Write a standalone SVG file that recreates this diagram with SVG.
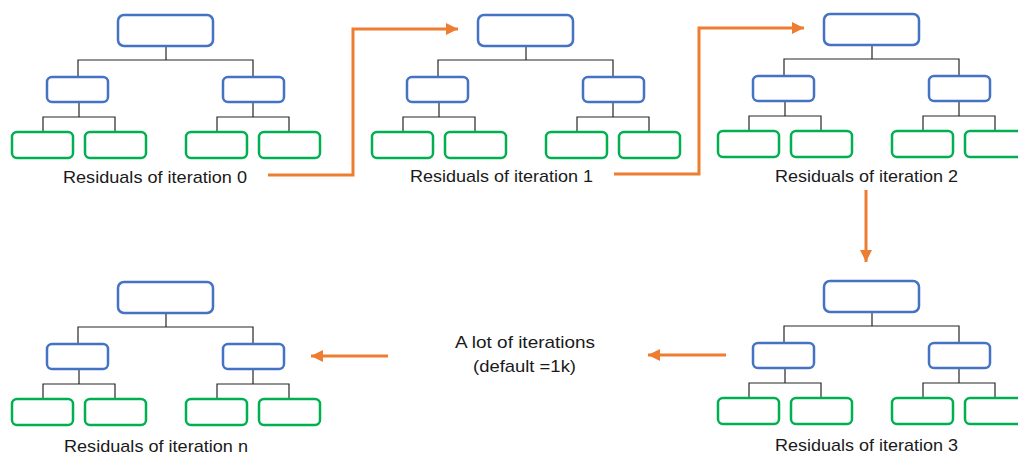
<svg xmlns="http://www.w3.org/2000/svg" width="1018" height="456" viewBox="0 0 1018 456">
<defs>
<style>
.b{fill:#fff;stroke:#4472C4;stroke-width:2.5}
.l{fill:#fff;stroke:#00B050;stroke-width:2.5}
.c{fill:none;stroke:#262626;stroke-width:1.2}
.o{fill:none;stroke:#ED7D31;stroke-width:3}
.t{font-family:"Liberation Sans",Arial,sans-serif;font-size:17px;fill:#1a1a1a}
</style>
<marker id="ah" markerUnits="userSpaceOnUse" markerWidth="12" markerHeight="12" viewBox="0 0 12 12" refX="12" refY="6" orient="auto">
<path d="M0,0 L12,6 L0,12 z" fill="#ED7D31"/>
</marker>
<path id="tc" d="M166,46V60M78,77V60H253V77M79,102V117M43,132V117H115V132M253,102V117M217,132V117H289V132"/>
</defs>
<g id="connectors">
<use href="#tc" class="c"/>
<use href="#tc" class="c" transform="translate(360,0)"/>
<use href="#tc" class="c" transform="translate(706,-1)"/>
<use href="#tc" class="c" transform="translate(706,266)"/>
<use href="#tc" class="c" transform="translate(0,267)"/>
<polyline class="o" points="268,175 353,175 353,29 458,29" marker-end="url(#ah)"/>
<polyline class="o" points="614,174 699,174 699,28 804,28" marker-end="url(#ah)"/>
<line class="o" x1="866" y1="190" x2="866" y2="262" marker-end="url(#ah)"/>
<line class="o" x1="726" y1="355" x2="648" y2="355" marker-end="url(#ah)"/>
<line class="o" x1="388" y1="356" x2="311" y2="356" marker-end="url(#ah)"/>
</g>
<g id="tree0">
<g id="t0-root"><rect class="b" x="118" y="15" width="95" height="31" rx="6"/></g>
<g id="t0-m1"><rect class="b" x="47" y="77" width="61" height="25" rx="5"/></g>
<g id="t0-m2"><rect class="b" x="223" y="77" width="61" height="25" rx="5"/></g>
<g id="t0-l1"><rect class="l" x="12" y="132" width="61" height="26" rx="5"/></g>
<g id="t0-l2"><rect class="l" x="85" y="132" width="61" height="26" rx="5"/></g>
<g id="t0-l3"><rect class="l" x="186" y="132" width="61" height="26" rx="5"/></g>
<g id="t0-l4"><rect class="l" x="259" y="132" width="61" height="26" rx="5"/></g>
<text class="t" x="63" y="183" textLength="184" lengthAdjust="spacingAndGlyphs">Residuals of iteration 0</text>
</g>
<g id="tree1" transform="translate(360,0)">
<g id="t1-root"><rect class="b" x="118" y="15" width="95" height="31" rx="6"/></g>
<g id="t1-m1"><rect class="b" x="47" y="77" width="61" height="25" rx="5"/></g>
<g id="t1-m2"><rect class="b" x="223" y="77" width="61" height="25" rx="5"/></g>
<g id="t1-l1"><rect class="l" x="12" y="132" width="61" height="26" rx="5"/></g>
<g id="t1-l2"><rect class="l" x="85" y="132" width="61" height="26" rx="5"/></g>
<g id="t1-l3"><rect class="l" x="186" y="132" width="61" height="26" rx="5"/></g>
<g id="t1-l4"><rect class="l" x="259" y="132" width="61" height="26" rx="5"/></g>
<text class="t" x="50" y="182" textLength="183" lengthAdjust="spacingAndGlyphs">Residuals of iteration 1</text>
</g>
<g id="tree2" transform="translate(706,-1)">
<g id="t2-root"><rect class="b" x="118" y="15" width="95" height="31" rx="6"/></g>
<g id="t2-m1"><rect class="b" x="47" y="77" width="61" height="25" rx="5"/></g>
<g id="t2-m2"><rect class="b" x="223" y="77" width="61" height="25" rx="5"/></g>
<g id="t2-l1"><rect class="l" x="12" y="132" width="61" height="26" rx="5"/></g>
<g id="t2-l2"><rect class="l" x="85" y="132" width="61" height="26" rx="5"/></g>
<g id="t2-l3"><rect class="l" x="186" y="132" width="61" height="26" rx="5"/></g>
<g id="t2-l4"><rect class="l" x="259" y="132" width="61" height="26" rx="5"/></g>
<text class="t" x="69" y="183" textLength="183" lengthAdjust="spacingAndGlyphs">Residuals of iteration 2</text>
</g>
<g id="tree3" transform="translate(706,266)">
<g id="t3-root"><rect class="b" x="118" y="15" width="95" height="31" rx="6"/></g>
<g id="t3-m1"><rect class="b" x="47" y="77" width="61" height="25" rx="5"/></g>
<g id="t3-m2"><rect class="b" x="223" y="77" width="61" height="25" rx="5"/></g>
<g id="t3-l1"><rect class="l" x="12" y="132" width="61" height="26" rx="5"/></g>
<g id="t3-l2"><rect class="l" x="85" y="132" width="61" height="26" rx="5"/></g>
<g id="t3-l3"><rect class="l" x="186" y="132" width="61" height="26" rx="5"/></g>
<g id="t3-l4"><rect class="l" x="259" y="132" width="61" height="26" rx="5"/></g>
<text class="t" x="69" y="185" textLength="183" lengthAdjust="spacingAndGlyphs">Residuals of iteration 3</text>
</g>
<g id="treen" transform="translate(0,267)">
<g id="tn-root"><rect class="b" x="118" y="15" width="95" height="31" rx="6"/></g>
<g id="tn-m1"><rect class="b" x="47" y="77" width="61" height="25" rx="5"/></g>
<g id="tn-m2"><rect class="b" x="223" y="77" width="61" height="25" rx="5"/></g>
<g id="tn-l1"><rect class="l" x="12" y="132" width="61" height="26" rx="5"/></g>
<g id="tn-l2"><rect class="l" x="85" y="132" width="61" height="26" rx="5"/></g>
<g id="tn-l3"><rect class="l" x="186" y="132" width="61" height="26" rx="5"/></g>
<g id="tn-l4"><rect class="l" x="259" y="132" width="61" height="26" rx="5"/></g>
<text class="t" x="64" y="185" textLength="184" lengthAdjust="spacingAndGlyphs">Residuals of iteration n</text>
</g>
<g id="note">
<text class="t" x="455" y="348" textLength="140" lengthAdjust="spacingAndGlyphs">A lot of iterations</text>
<text class="t" x="473" y="372" textLength="103" lengthAdjust="spacingAndGlyphs">(default =1k)</text>
</g>
</svg>
